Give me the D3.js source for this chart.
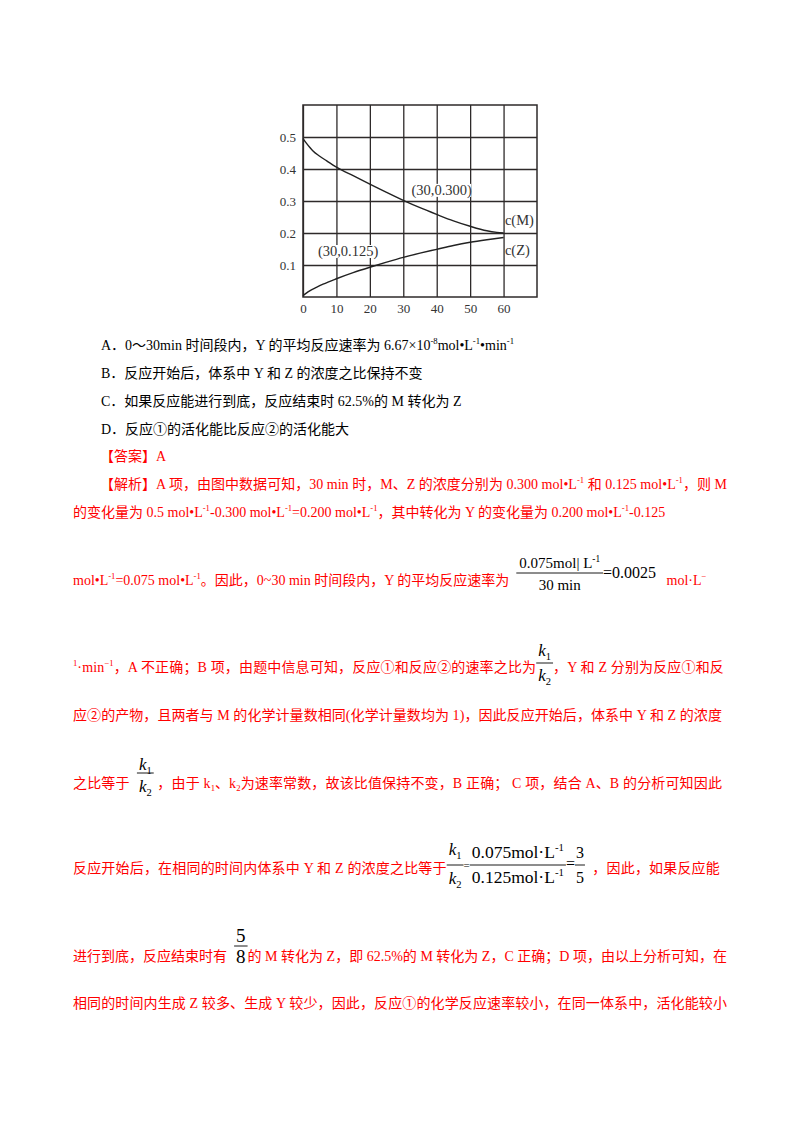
<!DOCTYPE html>
<html>
<head>
<meta charset="utf-8">
<script src="https://cdn.jsdelivr.net/npm/d3@7"></script>
<style>
  body { margin: 0; background: #fff; }
  svg { display: block; }
  svg text { white-space: pre; }
</style>
</head>
<body>
<div id="page"></div>
<script>
// ---------- chart data ----------
const xTicks = [0, 10, 20, 30, 40, 50, 60];
const yTicks = [0.1, 0.2, 0.3, 0.4, 0.5];
const timeM = [0, 1, 2, 3, 5, 7, 10, 15, 20, 25, 30, 35, 40, 45, 50, 55, 58, 60];
const concM = [0.495, 0.481, 0.468, 0.456, 0.440, 0.426, 0.406, 0.379, 0.353, 0.327, 0.302, 0.279, 0.258, 0.238, 0.221, 0.207, 0.202, 0.200];
const timeZ = [0, 1, 2, 4, 6, 10, 15, 20, 25, 30, 35, 40, 45, 50, 55, 60];
const concZ = [0.004, 0.012, 0.019, 0.030, 0.040, 0.057, 0.076, 0.093, 0.109, 0.124, 0.137, 0.149, 0.161, 0.171, 0.179, 0.186];
const noteText = ["(30,0.300)", "(30,0.125)", "c(M)", "c(Z)"];
const noteX = [41.5, 13.5, 60.4, 60.4];
const noteY = [0.335, 0.144, 0.240, 0.147];

// ---------- page text ----------
const optionLines = [
  ["A．0～30min 时间段内，Y 的平均反应速率为 6.67×10", { sup: "-8" }, "mol•L", { sup: "-1" }, "•min", { sup: "-1" }],
  ["B．反应开始后，体系中 Y 和 Z 的浓度之比保持不变"],
  ["C．如果反应能进行到底，反应结束时 62.5%的 M 转化为 Z"],
  ["D．反应①的活化能比反应②的活化能大"]
];
const answerLine = ["【答案】A"];
const kParts = [[{ t: "k", it: true }, { sub: "1" }], [{ t: "k", it: true }, { sub: "2" }]];
const analysisLines = [
  ["【解析】A 项，由图中数据可知，30 min 时，M、Z 的浓度分别为 0.300 mol•L", { sup: "-1" }, " 和 0.125 mol•L", { sup: "-1" }, "，则 M"],
  ["的变化量为 0.5 mol•L", { sup: "-1" }, "-0.300 mol•L", { sup: "-1" }, "=0.200 mol•L", { sup: "-1" }, "，其中转化为 Y 的变化量为 0.200 mol•L", { sup: "-1" }, "-0.125"],
  ["mol•L", { sup: "-1" }, "=0.075 mol•L", { sup: "-1" }, "。因此，0~30 min 时间段内，Y 的平均反应速率为  ",
    { frac: [["0.075mol", "| L", { sup: "-1" }], ["30 min"]], style: "rate" },
    { t: "=0.0025", color: "#000", fs: 16, rise: 7 }, "   mol·L", { sup: "−" }],
  [{ sup: "1" }, "·min", { sup: "−1" }, "，A 不正确；B 项，由题中信息可知，反应①和反应②的速率之比为", { frac: kParts, style: "k4" }, "，Y 和 Z 分别为反应①和反"],
  ["应②的产物，且两者与 M 的化学计量数相同(化学计量数均为 1)，因此反应开始后，体系中 Y 和 Z 的浓度"],
  ["之比等于  ", { frac: kParts, style: "k6" }, " ，由于 k", { sub: "1" }, "、k", { sub: "2" }, "为速率常数，故该比值保持不变，B 正确； C 项，结合 A、B 的分析可知因此"],
  ["反应开始后，在相同的时间内体系中 Y 和 Z 的浓度之比等于", { frac: kParts, style: "k7" }, { t: "=", color: "#000", fs: 11, rise: 4 },
    { frac: [["0.075mol·L", { sup: "-1" }], ["0.125mol·L", { sup: "-1" }]], style: "big" },
    { t: "=", color: "#000", fs: 16, rise: 4 }, { frac: [["3"], ["5"]], style: "small" }, "  ，因此，如果反应能"],
  ["进行到底，反应结束时有  ", { frac: [["5"], ["8"]], style: "five" }, "的 M 转化为 Z，即 62.5%的 M 转化为 Z，C 正确；D 项，由以上分析可知，在"],
  ["相同的时间内生成 Z 较多、生成 Y 较少，因此，反应①的化学反应速率较小，在同一体系中，活化能较小"]
];

// ---------- layout ----------
const W = 800, H = 1132;
const FONT = "'Liberation Serif', 'Noto Sans CJK SC', serif";
const FS = 14;
const RED = "#ff0000";
const optionBase = [350, 378, 406, 434];
const answerBase = 461;
const analysisBase = [489, 517, 585, 672, 720, 788, 873, 961, 1008];
const lineEnd = [727, null, null, 724, 722, 722, 720, 727, 727];
const fracStyles = {
  rate: { fs: 15, bar: 12, up: 5, down: 17, pad: 3 },
  k4: { fs: 17, bar: 9, up: 7, down: 18, pad: 2 },
  k6: { fs: 17, bar: 15, up: 3, down: 19, pad: 2 },
  k7: { fs: 17, bar: 8, up: 10, down: 19, pad: 2 },
  big: { fs: 17.5, bar: 8, up: 7, down: 18, pad: 2 },
  small: { fs: 16, bar: 8, up: 7, down: 18, pad: 1 },
  five: { fs: 19, bar: 15, up: 4, down: 17, pad: 2 }
};

const svg = d3.select("#page").append("svg")
  .attr("width", W).attr("height", H)
  .attr("viewBox", `0 0 ${W} ${H}`);

// =================== CHART ===================
const x = d3.scaleLinear().domain([0, 70]).range([303, 537]);
const y = d3.scaleLinear().domain([0, 0.6]).range([297, 105]);
const ink = "#2e2a2a";
const chart = svg.append("g").attr("font-family", "'Liberation Serif', serif");

// grid + tick labels through the axes
const xAxis = chart.append("g")
  .attr("transform", `translate(0,${y(0)})`)
  .call(d3.axisBottom(x).tickValues(xTicks).tickSizeInner(-(y(0) - y(0.6))).tickSizeOuter(0).tickPadding(7).tickFormat(d3.format("d")));
const yAxis = chart.append("g")
  .attr("transform", `translate(${x(0)},0)`)
  .call(d3.axisLeft(y).tickValues(yTicks).tickSizeInner(-(x(70) - x(0))).tickSizeOuter(0).tickPadding(7).tickFormat(d3.format(".1f")));
[xAxis, yAxis].forEach(a => {
  a.select(".domain").remove();
  a.selectAll(".tick line").attr("stroke", ink).attr("stroke-width", 1.3);
  a.selectAll(".tick text").attr("fill", "#333").attr("font-size", 13).attr("font-family", "'Liberation Serif', serif");
});

// plot frame
chart.append("rect")
  .attr("x", x(0)).attr("y", y(0.6))
  .attr("width", x(70) - x(0)).attr("height", y(0) - y(0.6))
  .attr("fill", "none").attr("stroke", ink).attr("stroke-width", 1.5);

// curves
const line = d3.line().x(d => x(d[0])).y(d => y(d[1])).curve(d3.curveMonotoneX);
[[timeM, concM], [timeZ, concZ]].forEach(([t, c]) => {
  chart.append("path")
    .datum(t.map((v, i) => [v, c[i]]))
    .attr("fill", "none").attr("stroke", "#222").attr("stroke-width", 1.4)
    .attr("d", line);
});

// annotations, with a white patch behind the point labels
const notes = chart.selectAll(".note")
  .data(noteText)
  .enter()
  .append("text")
  .attr("class", "note")
  .attr("x", (d, i) => x(noteX[i]))
  .attr("y", (d, i) => y(noteY[i]))
  .attr("dy", "0.35em")
  .attr("text-anchor", (d, i) => i < 2 ? "middle" : "start")
  .attr("font-size", 14.5)
  .attr("fill", "#333")
  .text(d => d);
notes.filter((d, i) => i < 2).each(function() {
  const b = this.getBBox();
  chart.insert("rect", ".note")
    .attr("x", b.x + 1).attr("y", b.y + 2)
    .attr("width", b.width - 2).attr("height", b.height - 4)
    .attr("fill", "#fff");
});

// =================== TEXT ===================
// lays out a run of segments, returns width and number of spaced chars
function run(g, segs, x0, base, o) {
  let cx = x0, n = 0;
  segs.forEach(s => {
    if (typeof s === "string") s = { t: s };
    if (s.frac) { cx += frac(g, s, cx, base, o); return; }
    const small = s.sup != null || s.sub != null;
    const fs = small ? o.fs * 0.62 : (s.fs || o.fs);
    const dy = s.sup != null ? -o.fs * 0.4 : s.sub != null ? o.fs * 0.22 : -(s.rise || 0);
    const txt = s.t != null ? s.t : (s.sup != null ? s.sup : s.sub);
    const el = g.append("text")
      .attr("x", cx).attr("y", base + dy)
      .attr("font-size", fs)
      .attr("fill", s.color || o.color)
      .text(txt);
    if (s.it) el.attr("font-style", "italic");
    if (!small && !s.color) {
      if (o.ls) el.attr("letter-spacing", o.ls);
      n += [...txt].length;
    }
    cx += el.node().getComputedTextLength();
  });
  return { w: cx - x0, n };
}

function frac(g, s, fx, base, o) {
  const st = fracStyles[s.style];
  const fo = { fs: st.fs, color: s.color || "#000" };
  const gn = g.append("g"), gd = g.append("g");
  const wn = run(gn, s.frac[0], 0, 0, fo).w;
  const wd = run(gd, s.frac[1], 0, 0, fo).w;
  const w = Math.max(wn, wd) + 2 * st.pad;
  const bar = base - st.bar;
  gn.attr("transform", `translate(${fx + (w - wn) / 2},${bar - st.up})`);
  gd.attr("transform", `translate(${fx + (w - wd) / 2},${bar + st.down})`);
  g.append("line")
    .attr("x1", fx).attr("x2", fx + w)
    .attr("y1", bar).attr("y2", bar)
    .attr("stroke", fo.color).attr("stroke-width", 0.9);
  return w;
}

function textLine(segs, x0, base, color, target) {
  const g = svg.append("g").attr("font-family", FONT);
  const r = run(g, segs, x0, base, { fs: FS, color });
  if (target) {
    const ls = (target - x0 - r.w) / r.n;
    g.selectAll("*").remove();
    run(g, segs, x0, base, { fs: FS, color, ls });
  }
}

optionLines.forEach((segs, i) => textLine(segs, 101, optionBase[i], "#000"));
textLine(answerLine, 100, answerBase, RED);
analysisLines.forEach((segs, i) => {
  textLine(segs, i === 0 ? 100 : 73, analysisBase[i], RED, lineEnd[i]);
});
</script>
</body>
</html>
